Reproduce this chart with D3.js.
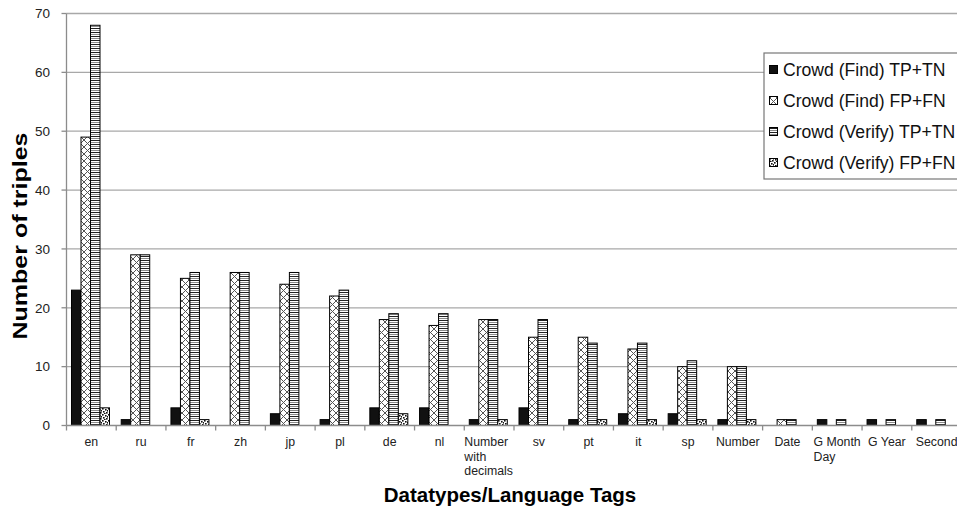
<!DOCTYPE html>
<html>
<head>
<meta charset="utf-8">
<script src="https://cdn.jsdelivr.net/npm/d3@7"></script>
<style>
  html, body { margin: 0; padding: 0; background: #fff; }
  svg { display: block; font-family: "Liberation Sans", Arial, sans-serif; }
</style>
</head>
<body>
<svg id="chart" width="957" height="508"></svg>
<script>
// ---- data ----
const categories = ["en","ru","fr","zh","jp","pl","de","nl","Number with decimals","sv","pt","it","sp","Number","Date","G Month Day","G Year","Second"];
const categoryLabels = [["en"],["ru"],["fr"],["zh"],["jp"],["pl"],["de"],["nl"],["Number","with","decimals"],["sv"],["pt"],["it"],["sp"],["Number"],["Date"],["G Month","Day"],["G Year"],["Second"]];
const seriesNames = ["Crowd (Find) TP+TN","Crowd (Find) FP+FN","Crowd (Verify) TP+TN","Crowd (Verify) FP+FN"];
const findTP   = [23, 1, 3, 0, 2, 1, 3, 3, 1, 3, 1, 2, 2, 1, 0, 1, 1, 1];
const findFP   = [49,29,25,26,24,22,18,17,18,15,15,13,10,10, 1, 0, 0, 0];
const verifyTP = [68,29,26,26,26,23,19,19,18,18,14,14,11,10, 1, 1, 1, 1];
const verifyFP = [ 3, 0, 1, 0, 0, 0, 2, 0, 1, 0, 1, 1, 1, 1, 0, 0, 0, 0];
const yTicks = [0,10,20,30,40,50,60,70];
const xTitle = "Datatypes/Language Tags";
const yTitle = "Number of triples";

(function () {
const seriesValues = [findTP, findFP, verifyTP, verifyFP];

// ---- layout ----
const svg = d3.select("#chart");
const W = 957, H = 508;
const pLeft = 66.5, pRight = 961.5, pTop = 13.5, pBottom = 425.5;

svg.append("rect").attr("width", W).attr("height", H).attr("fill", "#fff");

// patterns
const defs = svg.append("defs");
const pSolid = "#111";
const pc = defs.append("pattern").attr("id","pCross").attr("patternUnits","userSpaceOnUse")
  .attr("width",7).attr("height",7);
pc.append("rect").attr("width",7).attr("height",7).attr("fill","#fff");
pc.append("path").attr("d","M0,0L7,7M7,0L0,7").attr("stroke","#555").attr("stroke-width",1);
const ph = defs.append("pattern").attr("id","pHoriz").attr("patternUnits","userSpaceOnUse")
  .attr("width",4).attr("height",4);
ph.append("rect").attr("width",4).attr("height",4).attr("fill","#fff");
ph.append("rect").attr("y",0).attr("width",4).attr("height",1).attr("fill","#222");
ph.append("rect").attr("y",2).attr("width",4).attr("height",1).attr("fill","#8a8a8a");
const pd = defs.append("pattern").attr("id","pDots").attr("patternUnits","userSpaceOnUse")
  .attr("width",6).attr("height",6);
pd.append("rect").attr("width",6).attr("height",6).attr("fill","#fff");
[[0,0],[3,1],[1,3],[4,4],[5,2],[2,5]].forEach(([x,y]) => {
  pd.append("rect").attr("x",x).attr("y",y).attr("width",1.6).attr("height",1.6).attr("fill","#111");
});
const fills = [pSolid, "url(#pCross)", "url(#pHoriz)", "url(#pDots)"];

// scales
const x0 = d3.scaleBand().domain(categories).range([pLeft, pRight]).padding(0);
const x1 = d3.scaleBand().domain(d3.range(4)).range([5, 43]).padding(0);
const y = d3.scaleLinear().domain([0, 70]).range([pBottom, pTop]);

// gridlines
svg.append("g").selectAll("line").data(yTicks.filter(d => d > 0)).join("line")
  .attr("x1", pLeft).attr("x2", W)
  .attr("y1", d => y(d)).attr("y2", d => y(d))
  .attr("stroke", "#a8a8a8").attr("stroke-width", 1.3);

// bars
const g = svg.append("g");
categories.forEach((c, i) => {
  seriesValues.forEach((vals, s) => {
    const v = vals[i];
    if (v <= 0) return;
    g.append("rect")
      .attr("x", x0(c) + x1(s))
      .attr("y", y(v))
      .attr("width", x1.bandwidth())
      .attr("height", y(0) - y(v))
      .attr("fill", fills[s])
      .attr("stroke", "#000").attr("stroke-width", 1);
  });
});

// y axis
svg.append("line").attr("x1", pLeft).attr("x2", pLeft).attr("y1", pTop).attr("y2", pBottom)
  .attr("stroke", "#8c8c8c").attr("stroke-width", 1.3);
const yt = svg.append("g");
yTicks.forEach(t => {
  yt.append("line").attr("x1", pLeft - 5).attr("x2", pLeft).attr("y1", y(t)).attr("y2", y(t))
    .attr("stroke", "#8c8c8c").attr("stroke-width", 1.3);
  yt.append("text").attr("x", 50).attr("y", y(t)).attr("dy", "0.35em")
    .attr("text-anchor", "end").attr("font-size", 13.5).attr("fill", "#222").text(t);
});

// x axis
svg.append("line").attr("x1", pLeft).attr("x2", W).attr("y1", pBottom).attr("y2", pBottom)
  .attr("stroke", "#8c8c8c").attr("stroke-width", 1.3);
const xt = svg.append("g");
categories.forEach((c) => {
  xt.append("line").attr("x1", x0(c)).attr("x2", x0(c)).attr("y1", pBottom).attr("y2", pBottom + 5)
    .attr("stroke", "#8c8c8c").attr("stroke-width", 1.3);
});
categories.forEach((c, i) => {
  const lines = categoryLabels[i];
  const cx = x0(c) + x0.bandwidth() / 2;
  const txt = xt.append("text").attr("font-size", 12.3).attr("fill", "#222");
  if (lines.length === 1) {
    txt.attr("x", cx).attr("y", 446).attr("text-anchor", "middle").text(lines[0]);
  } else {
    lines.forEach((l, k) => {
      txt.append("tspan").attr("x", 0).attr("y", 446 + k * 14.5).text(l);
    });
    const w = txt.node().getBBox().width;
    txt.selectAll("tspan").attr("x", cx - w / 2);
  }
});

// axis titles
svg.append("text").attr("x", 510).attr("y", 502).attr("text-anchor", "middle")
  .attr("font-size", 20.5).attr("font-weight", "bold").attr("fill", "#000").text(xTitle);
svg.append("text").attr("transform", "translate(27,236) rotate(-90)")
  .attr("text-anchor", "middle").attr("font-size", 20).attr("font-weight", "bold")
  .attr("textLength", 207).attr("lengthAdjust", "spacingAndGlyphs")
  .attr("fill", "#000").text(yTitle);

// legend
const lg = svg.append("g");
lg.append("rect").attr("x", 764).attr("y", 53).attr("width", 210).attr("height", 126)
  .attr("fill", "#fff").attr("stroke", "#777").attr("stroke-width", 1.2);
seriesNames.forEach((name, s) => {
  const cy = 70 + s * 31;
  lg.append("rect").attr("x", 769.5).attr("y", cy - 4.5).attr("width", 8).attr("height", 8)
    .attr("fill", fills[s]).attr("stroke", "#000").attr("stroke-width", 1);
  lg.append("text").attr("x", 783).attr("y", cy).attr("dy", "0.36em")
    .attr("font-size", 17.6).attr("fill", "#111").text(name);
});
})();
</script>
</body>
</html>
